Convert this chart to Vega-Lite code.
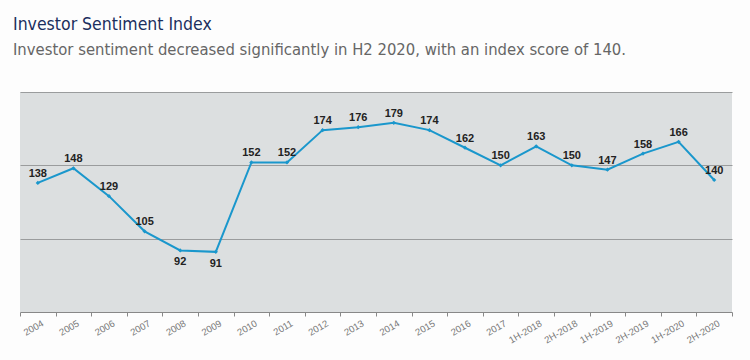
{
  "$schema": "https://vega.github.io/schema/vega-lite/v6.json",
  "autosize": "none",
  "width": 712,
  "height": 220,
  "padding": {"left": 20, "top": 92, "right": 18, "bottom": 48},
  "background": "#fdfdfd",
  "title": {
    "text": "Investor Sentiment Index",
    "subtitle": "Investor sentiment decreased significantly in H2 2020, with an index score of 140.",
    "anchor": "start",
    "frame": "group",
    "dx": -7,
    "offset": 34,
    "font": "DejaVu Sans Condensed",
    "fontSize": 17.5,
    "fontWeight": "normal",
    "color": "#1b2f5e",
    "subtitleFont": "DejaVu Sans Condensed",
    "subtitleFontSize": 16.5,
    "subtitleColor": "#666666",
    "subtitlePadding": 8
  },
  "config": {
    "view": {"stroke": null, "fill": "#dcdfe0"}
  },
  "data": {
    "values": [
      {"period": "2004", "value": 138},
      {"period": "2005", "value": 148},
      {"period": "2006", "value": 129},
      {"period": "2007", "value": 105},
      {"period": "2008", "value": 92},
      {"period": "2009", "value": 91},
      {"period": "2010", "value": 152},
      {"period": "2011", "value": 152},
      {"period": "2012", "value": 174},
      {"period": "2013", "value": 176},
      {"period": "2014", "value": 179},
      {"period": "2015", "value": 174},
      {"period": "2016", "value": 162},
      {"period": "2017", "value": 150},
      {"period": "1H-2018", "value": 163},
      {"period": "2H-2018", "value": 150},
      {"period": "1H-2019", "value": 147},
      {"period": "2H-2019", "value": 158},
      {"period": "1H-2020", "value": 166},
      {"period": "2H-2020", "value": 140}
    ]
  },
  "encoding": {
    "x": {
      "field": "period",
      "type": "ordinal",
      "sort": null,
      "scale": {"paddingInner": 0, "paddingOuter": 0},
      "axis": {
        "title": null,
        "labelAngle": -30,
        "labelAlign": "right",
        "labelBaseline": "top",
        "labelFont": "Liberation Sans",
        "labelFontSize": 9.5,
        "labelColor": "#777777",
        "labelPadding": 2,
        "labelOffset": 2,
        "tickBand": "extent",
        "tickColor": "#888888",
        "tickSize": 4,
        "domainColor": "#888888",
        "grid": false
      }
    },
    "y": {
      "field": "value",
      "type": "quantitative",
      "scale": {"domain": [50, 200], "nice": false, "zero": false},
      "axis": {
        "title": null,
        "labels": false,
        "ticks": false,
        "domain": false,
        "values": [100, 150, 200],
        "grid": true,
        "gridColor": "#9a9c9d",
        "gridWidth": 1
      }
    }
  },
  "layer": [
    {
      "mark": {"type": "line", "color": "#1a97cc", "strokeWidth": 2}
    },
    {
      "mark": {"type": "point", "filled": true, "color": "#1a97cc", "size": 18, "shape": "diamond", "opacity": 1}
    },
    {
      "transform": [{"filter": "datum.value >= 100"}],
      "mark": {"type": "text", "font": "Liberation Sans", "fontSize": 11, "fontWeight": "bold", "color": "#222222", "baseline": "bottom", "dy": -4},
      "encoding": {"text": {"field": "value", "type": "quantitative"}}
    },
    {
      "transform": [{"filter": "datum.value < 100"}],
      "mark": {"type": "text", "font": "Liberation Sans", "fontSize": 11, "fontWeight": "bold", "color": "#222222", "baseline": "top", "dy": 6},
      "encoding": {"text": {"field": "value", "type": "quantitative"}}
    }
  ]
}
